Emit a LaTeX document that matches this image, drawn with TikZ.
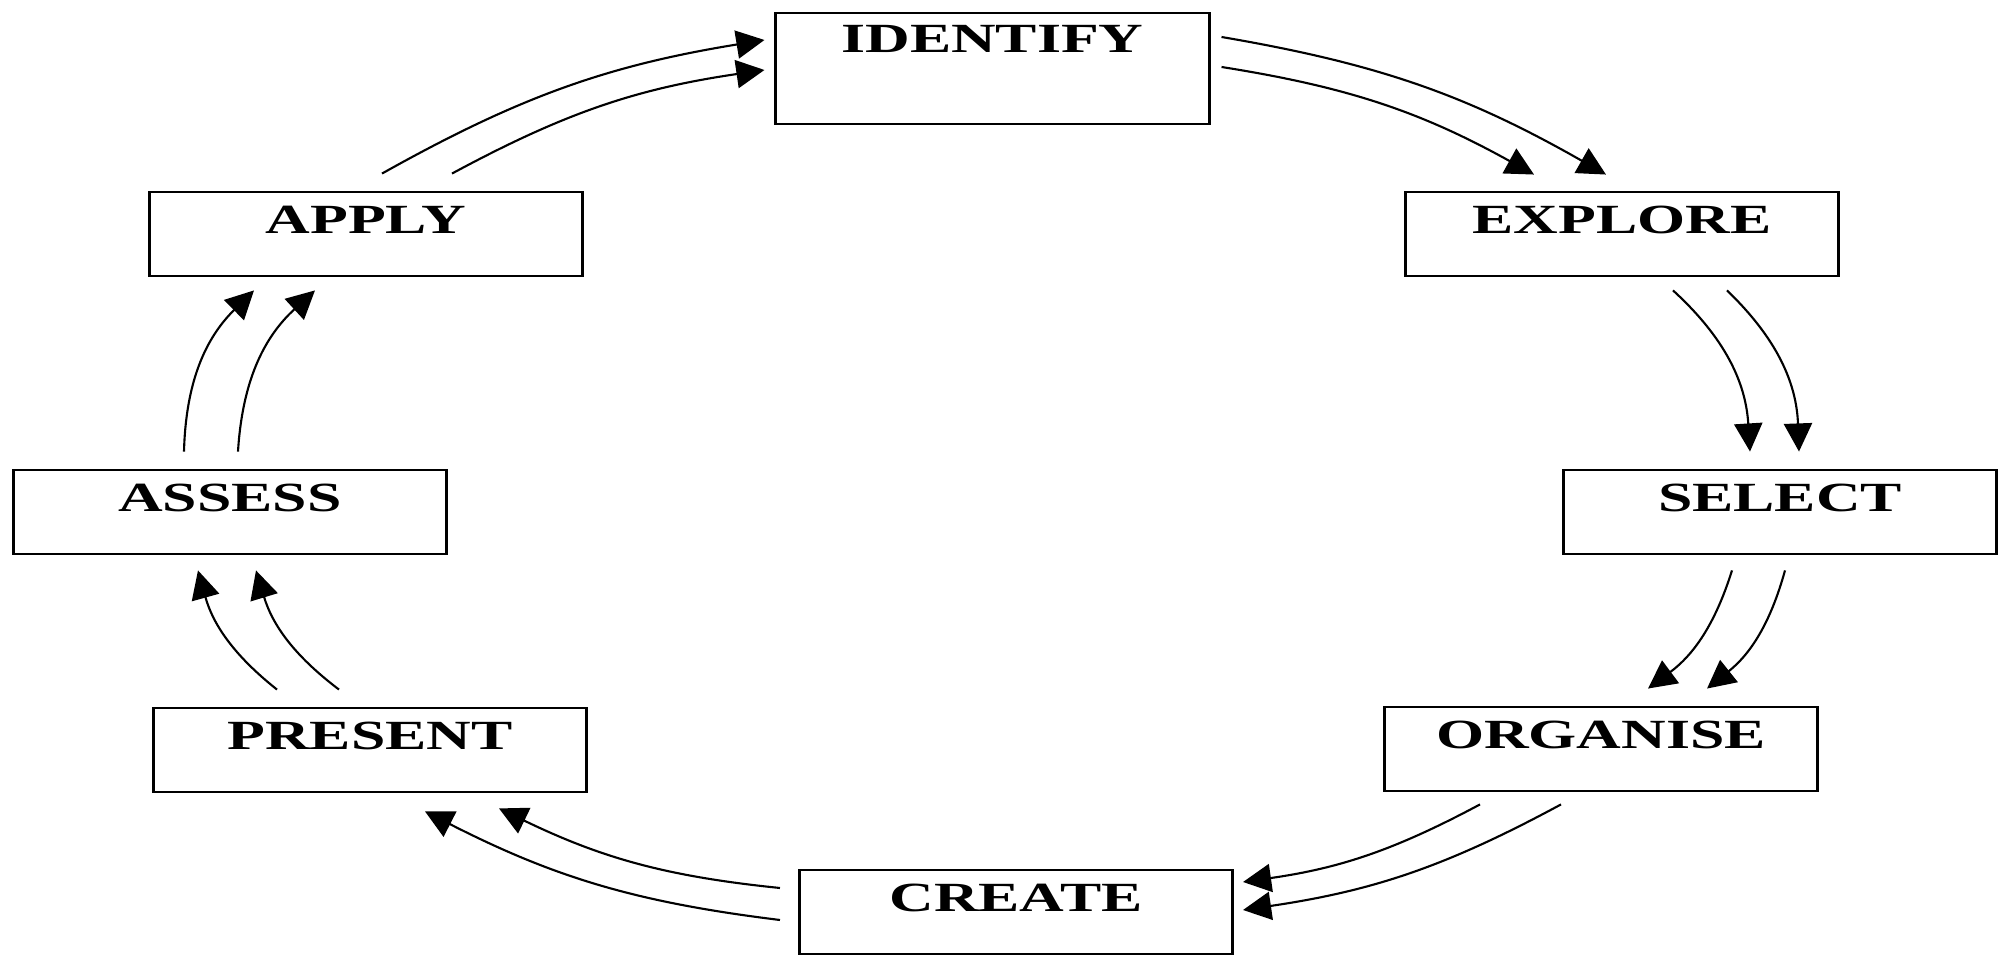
\documentclass[tikz,border=0pt]{standalone}
\usepackage{fontspec}
\newfontfamily\stagefont{Liberation Serif}[FakeStretch=1.49]
\usetikzlibrary{arrows.meta,calc}
\begin{document}
\begin{tikzpicture}
        [
            x = 0.01cm, y = -0.01cm,
            stage/.style = {draw, line width = 0.8pt, inner sep = 0pt, minimum width = 4.33cm,
                            text height = 0.42cm, text depth = 0.42cm,
                            font = \stagefont\bfseries\fontsize{11.8}{14}\selectfont},
            flow/.style = {line width = 0.6pt, -{Triangle[length = 8pt, width = 8pt]}}
        ]
            \fill [white] (0,0) rectangle (2005,954);
            \node [stage, text height = 0.40cm, text depth = 0.71cm] (identify) at (992.5,68.5) {IDENTIFY};
            \node [stage] (explore) at (1622,234) {EXPLORE};
            \node [stage] (select) at (1780,512) {SELECT};
            \node [stage] (organise) at (1601,749) {ORGANISE};
            \node [stage] (create) at (1016,912) {CREATE};
            \node [stage] (present) at (370,750) {PRESENT};
            \node [stage] (assess) at (230,512) {ASSESS};
            \node [stage] (apply) at (366,234) {APPLY};
            % two arrows between each pair of stages
            \draw [flow] ($(identify.east)+(11,-31.5)$) to [bend left=10] ($(explore.north)+(-16,-16)$);
            \draw [flow] ($(identify.east)+(11,-1.5)$) to [bend left=10] ($(explore.north)+(-88,-16)$);
            \draw [flow] ($(explore.south)+(51,13)$) to [bend left=22] ($(select.north)+(-30,-17)$);
            \draw [flow] ($(explore.south)+(105,13)$) to [bend left=22] ($(select.north)+(19,-17)$);
            \draw [flow] ($(select.south)+(-48,15)$) to [bend left=18] ($(organise.north)+(47,-17)$);
            \draw [flow] ($(select.south)+(5,15)$) to [bend left=18] ($(organise.north)+(106,-17)$);
            \draw [flow] ($(organise.south)+(-121,12)$) to [bend left=10] ($(create.east)+(9,-30)$);
            \draw [flow] ($(organise.south)+(-40,12)$) to [bend left=10] ($(create.east)+(9,-2)$);
            \draw [flow] ($(create.west)+(-18,-24)$) to [bend left=10] ($(present.south)+(129,15)$);
            \draw [flow] ($(create.west)+(-18,8)$) to [bend left=10] ($(present.south)+(55,18)$);
            \draw [flow] ($(present.north)+(-93,-17)$) to [bend left=18] ($(assess.south)+(-32,15)$);
            \draw [flow] ($(present.north)+(-31,-17)$) to [bend left=18] ($(assess.south)+(26,15)$);
            \draw [flow] ($(assess.north)+(-46,-17)$) to [bend left=22] ($(apply.south)+(-112,13)$);
            \draw [flow] ($(assess.north)+(8,-17)$) to [bend left=22] ($(apply.south)+(-51,13)$);
            \draw [flow] ($(apply.north)+(16,-17)$) to [bend left=10] ($(identify.west)+(-10,-28.5)$);
            \draw [flow] ($(apply.north)+(86,-17)$) to [bend left=10] ($(identify.west)+(-10,1.5)$);
        \end{tikzpicture}
\end{document}
